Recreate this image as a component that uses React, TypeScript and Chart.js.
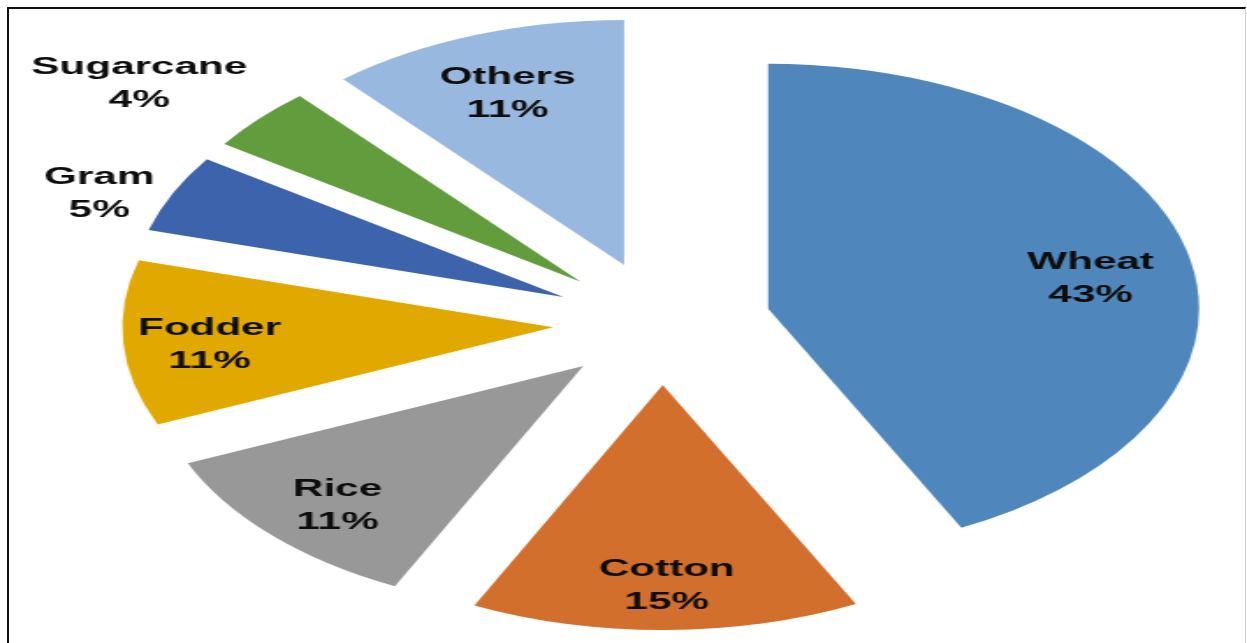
import React, { useEffect, useRef } from 'react';
import { Chart, PieController, ArcElement, registerables } from 'chart.js';

Chart.register(...registerables);

// ---- data ----
const categories = ['Wheat', 'Cotton', 'Rice', 'Fodder', 'Gram', 'Sugarcane', 'Others'];
const shares = [42.6, 14.6, 11.3, 10.9, 5.1, 4.2, 11.3];
const sliceColors = ['#4F87BD', '#D26F2D', '#989898', '#E1A900', '#3D63AC', '#629C3D', '#99B8DF'];

// ---- layout / style ----
const PAGE_W = 1247;
const PAGE_H = 643;
const STRETCH = 1.7588; // the reference picture is stretched horizontally
const INNER_W = Math.round(PAGE_W / STRETCH);
const RADIUS = 245;
const EXPLODE = 62;
const CENTER_X = 376.4;
const CENTER_Y = 323.1;
const FONT_SIZE = 24;
const LINE_GAP = 33;
const TEXT_NUDGE_Y = 2.5;
const labelPlacement = [
  { r: 0.76, shift: 3.3 },
  { r: 0.81, shift: -0.3 },
  { r: 0.8, shift: -0.8 },
  { r: 0.8, shift: -0.7 },
  { r: 1.16, shift: -3.2 },
  { r: 1.31, shift: -3.2 },
  { r: 0.76, shift: -0.5 },
];

// Arc that is exploded as a plain wedge (uniform translation, no radius change)
class ExplodedArc extends ArcElement {
  static id = 'explodedArc';
  draw(ctx: CanvasRenderingContext2D) {
    const self: any = this;
    const { x, y, startAngle, endAngle, outerRadius } = self;
    const opts = self.options;
    const mid = (startAngle + endAngle) / 2;
    const d = opts.offset || 0;
    const ax = x + Math.cos(mid) * d;
    const ay = y + Math.sin(mid) * d;
    ctx.save();
    ctx.beginPath();
    ctx.moveTo(ax, ay);
    ctx.arc(ax, ay, outerRadius, startAngle, endAngle);
    ctx.closePath();
    ctx.fillStyle = opts.backgroundColor;
    ctx.fill();
    ctx.restore();
  }
}

class ExplodedPieController extends PieController {
  static id = 'explodedPie';
  static defaults = { ...(PieController as any).defaults, dataElementType: 'explodedArc' };
}

Chart.register(ExplodedArc as any, ExplodedPieController as any);

const labelPlugin = {
  id: 'sliceLabels',
  afterDatasetsDraw(chart: any) {
    const meta = chart.getDatasetMeta(0);
    const ctx: CanvasRenderingContext2D = chart.ctx;
    const total = shares.reduce((a, b) => a + b, 0);
    ctx.save();
    ctx.font = `bold ${FONT_SIZE}px "Liberation Sans", Arial, sans-serif`;
    ctx.fillStyle = '#0d0d0d';
    ctx.textAlign = 'center';
    ctx.textBaseline = 'middle';
    meta.data.forEach((arc: any, i: number) => {
      const { x, y, startAngle, endAngle, outerRadius } = arc;
      const off = arc.options.offset || 0;
      const mid = (startAngle + endAngle) / 2;
      const ax = x + Math.cos(mid) * off;
      const ay = y + Math.sin(mid) * off;
      const p = labelPlacement[i];
      const a = mid + (p.shift * Math.PI) / 180;
      const lx = ax + Math.cos(a) * outerRadius * p.r;
      const ly = ay + Math.sin(a) * outerRadius * p.r + TEXT_NUDGE_Y;
      ctx.fillText(categories[i], lx, ly - LINE_GAP / 2);
      ctx.fillText(`${Math.round((shares[i] / total) * 100)}%`, lx, ly + LINE_GAP / 2);
    });
    ctx.restore();
  },
};

export default function App() {
  const canvasRef = useRef<HTMLCanvasElement | null>(null);

  useEffect(() => {
    const canvas = canvasRef.current;
    if (!canvas) return;
    const chart = new Chart(canvas, {
      type: 'explodedPie' as any,
      data: {
        labels: categories,
        datasets: [
          {
            data: shares,
            backgroundColor: sliceColors,
            borderWidth: 0,
            offset: EXPLODE,
            hoverOffset: 0,
          } as any,
        ],
      },
      options: {
        responsive: false,
        animation: false,
        devicePixelRatio: 1,
        events: [],
        radius: RADIUS,
        layout: {
          padding: {
            left: 2 * CENTER_X - INNER_W,
            right: 0,
            top: 2 * CENTER_Y - PAGE_H,
            bottom: 0,
          },
        },
        plugins: {
          legend: { display: false },
          tooltip: { enabled: false },
          title: { display: false },
        },
      } as any,
      plugins: [labelPlugin],
    });
    return () => chart.destroy();
  }, []);

  return (
    <div
      style={{
        position: 'fixed',
        left: 0,
        top: 0,
        width: PAGE_W,
        height: PAGE_H,
        overflow: 'hidden',
        background: '#ffffff',
      }}
    >
      <div
        style={{
          position: 'absolute',
          left: 7,
          top: 7,
          width: 1246 - 7 - 3,
          height: 700,
          borderLeft: '2px solid #111',
          borderTop: '2px solid #111',
          borderRight: '1px solid #d0d0d0',
        }}
      />
      <canvas
        ref={canvasRef}
        width={INNER_W}
        height={PAGE_H}
        style={{
          position: 'absolute',
          left: 0,
          top: 0,
          width: PAGE_W + 'px',
          height: PAGE_H + 'px',
        }}
      />
    </div>
  );
}
